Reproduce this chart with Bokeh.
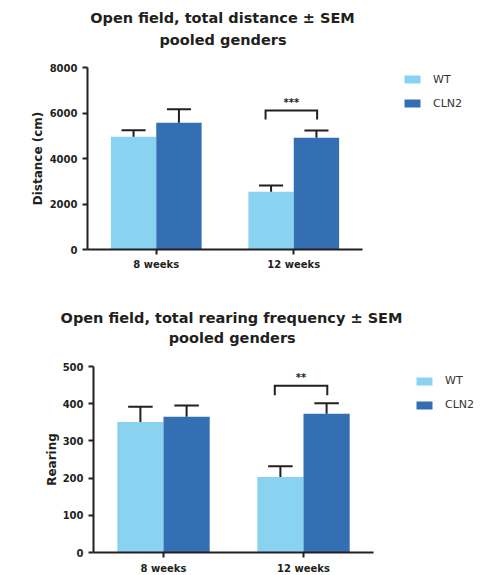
import numpy as np
from bokeh.plotting import figure
from bokeh.models import Range1d, FixedTicker, Legend, LegendItem, Label
from bokeh.layouts import column
from bokeh.core.properties import value
from bokeh.embed import file_html
from bokeh.resources import INLINE

# ---------------- data ----------------
groups = ["8 weeks", "12 weeks"]
genotypes = ["WT", "CLN2"]

distance_title = ["Open field, total distance \u00b1 SEM", "pooled genders"]
distance_wt = [4960, 2540]
distance_wt_sem = [280, 270]
distance_cln2 = [5570, 4910]
distance_cln2_sem = [590, 320]
distance_sig = ["", "***"]
distance_bracket = [None, 6110]
distance_ticks = [0, 2000, 4000, 6000, 8000]

rearing_title = ["Open field, total rearing frequency \u00b1 SEM", "pooled genders"]
rearing_wt = [351, 203]
rearing_wt_sem = [41, 29]
rearing_cln2 = [365, 373]
rearing_cln2_sem = [30, 28]
rearing_sig = ["", "**"]
rearing_bracket = [None, 448]
rearing_ticks = [0, 100, 200, 300, 400, 500]

# ---------------- style / layout ----------------
WT_COLOR = "#89D3F0"
CLN2_COLOR = "#346FB4"
INK = "#231F20"
FONT = "DejaVu Sans"
BAR_W = 0.33
CAP_W = 0.175
PAGE_W = 480
LEFT = 20                 # common frame left edge for every stacked figure
FRAME_W = PAGE_W - LEFT


def make_title(lines, height, positions):
    t = figure(frame_width=FRAME_W, frame_height=height, output_backend="svg",
               toolbar_location=None, title=None,
               x_range=Range1d(LEFT, PAGE_W), y_range=Range1d(0, height),
               x_axis_type=None, y_axis_type=None,
               min_border_left=LEFT, min_border_right=0,
               min_border_top=0, min_border_bottom=0)
    t.outline_line_color = None
    t.background_fill_color = None
    t.border_fill_color = None
    for txt, (tx, ty) in zip(lines, positions):
        t.add_layout(Label(x=tx, y=ty, text=txt, text_align="center",
                           text_baseline="middle", text_font=FONT,
                           text_font_style="bold", text_font_size="14.5px",
                           text_color=INK))
    return t


def make_chart(ylabel, wt, wt_sem, cln2, cln2_sem, sig, bracket, ticks,
               axis_x, axis_w, axis_h, pad_top, pad_bottom,
               legend_loc, xlab_standoff, ylab_standoff):
    ymax = ticks[-1]
    ngroups = len(groups)
    sx = ngroups / axis_w                      # data units per pixel (x)
    sy = ymax / axis_h                         # data units per pixel (y)
    x_start = -(axis_x - LEFT) * sx
    x_end = x_start + FRAME_W * sx
    frame_h = axis_h + pad_top + pad_bottom
    p = figure(frame_width=FRAME_W, frame_height=frame_h,
               output_backend="svg", toolbar_location=None, title=None,
               x_range=Range1d(x_start, x_end),
               y_range=Range1d(-pad_bottom * sy, ymax + pad_top * sy),
               min_border_left=LEFT, min_border_right=0,
               min_border_top=0, min_border_bottom=0)
    p.outline_line_color = None
    p.xgrid.grid_line_color = None
    p.ygrid.grid_line_color = None
    p.background_fill_color = None
    p.border_fill_color = None

    centers = np.arange(ngroups) + 0.5
    x_wt = centers - BAR_W / 2
    x_cl = centers + BAR_W / 2
    wt = np.array(wt, float)
    cln2 = np.array(cln2, float)
    wt_top = wt + np.array(wt_sem, float)
    cl_top = cln2 + np.array(cln2_sem, float)

    r_wt = p.vbar(x=x_wt, top=wt, bottom=0, width=BAR_W,
                  fill_color=WT_COLOR, line_color=None)
    r_cl = p.vbar(x=x_cl, top=cln2, bottom=0, width=BAR_W,
                  fill_color=CLN2_COLOR, line_color=None)

    # error bars (upper only)
    xs = np.concatenate([x_wt, x_cl])
    ys0 = np.concatenate([wt, cln2])
    ys1 = np.concatenate([wt_top, cl_top])
    p.segment(x0=xs, y0=ys0, x1=xs, y1=ys1, line_color=INK, line_width=2)
    p.segment(x0=xs - CAP_W / 2, y0=ys1, x1=xs + CAP_W / 2, y1=ys1,
              line_color=INK, line_width=2)

    # significance brackets
    for i, (sg, b) in enumerate(zip(sig, bracket)):
        if not sg:
            continue
        xl = x_wt[i] - 0.04
        xr = x_cl[i] + 0.005
        drop = 0.05 * ymax
        p.line(x=[xl, xl, xr, xr], y=[b - drop, b, b, b - drop],
               line_color=INK, line_width=2, line_join="miter")
        p.text(x=[(xl + xr) / 2], y=[b], text=[sg], text_align="center",
               text_baseline="middle", y_offset=-8,
               text_font=value(FONT), text_font_style="bold",
               text_font_size="10px", text_color=INK)

    # axes (fixed at the data origin, inside the frame)
    for ax in (p.xaxis[0], p.yaxis[0]):
        ax.axis_line_width = 2
        ax.axis_line_color = INK
        ax.major_tick_line_width = 2
        ax.major_tick_line_color = INK
        ax.major_tick_in = 0
        ax.major_tick_out = 5
        ax.minor_tick_line_color = None
        ax.major_label_text_font = FONT
        ax.major_label_text_font_style = "bold"
        ax.major_label_text_font_size = "10px"
        ax.major_label_text_color = INK
        ax.fixed_location = 0

    p.xaxis.bounds = (0, ngroups)
    p.xaxis.ticker = FixedTicker(ticks=list(centers))
    p.xaxis.major_label_overrides = {float(c): g for c, g in zip(centers, groups)}
    p.xaxis.major_label_standoff = xlab_standoff

    p.yaxis.bounds = (0, ymax)
    p.yaxis.ticker = FixedTicker(ticks=ticks)
    p.yaxis.major_label_standoff = 5
    p.yaxis.axis_label = ylabel
    p.yaxis.axis_label_text_font = FONT
    p.yaxis.axis_label_text_font_style = "bold"
    p.yaxis.axis_label_text_font_size = "12px"
    p.yaxis.axis_label_text_color = INK
    p.yaxis.axis_label_standoff = ylab_standoff

    legend = Legend(items=[LegendItem(label=genotypes[0], renderers=[r_wt]),
                           LegendItem(label=genotypes[1], renderers=[r_cl])],
                    location=legend_loc, orientation="vertical",
                    glyph_width=20, glyph_height=10, label_height=10,
                    label_standoff=11, spacing=11, padding=0, margin=0,
                    border_line_color=None, background_fill_alpha=0,
                    label_text_font=FONT, label_text_font_size="11px",
                    label_text_color="#333333")
    p.add_layout(legend, "center")
    return p


t1 = make_title(distance_title, 59, [(222, 42), (222.5, 20)])
p1 = make_chart("Distance (cm)", distance_wt, distance_wt_sem,
                distance_cln2, distance_cln2_sem, distance_sig, distance_bracket,
                distance_ticks, 87, 275, 182, 8, 24,
                (402 - LEFT, 163.5), 4, 2)
t2 = make_title(rearing_title, 85, [(231, 40.3), (231.7, 20.3)])
p2 = make_chart("Rearing", rearing_wt, rearing_wt_sem,
                rearing_cln2, rearing_cln2_sem, rearing_sig, rearing_bracket,
                rearing_ticks, 93, 280, 186, 8, 22,
                (414 - LEFT, 163), 5, 1)

layout = column(t1, p1, t2, p2, spacing=0)
open("out.html", "w").write(file_html(layout, INLINE))
